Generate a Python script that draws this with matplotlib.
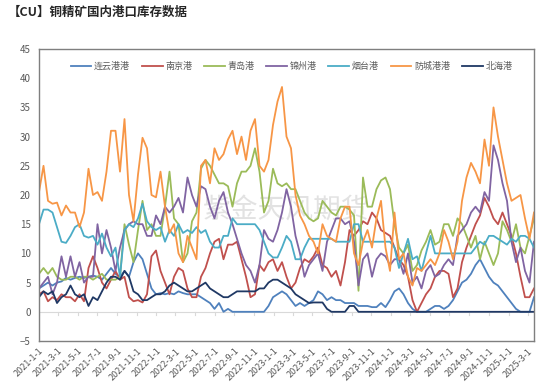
import matplotlib
matplotlib.use('Agg')
import matplotlib.pyplot as plt
import pandas as pd

plt.rcParams['font.family'] = ['Noto Sans CJK SC', 'DejaVu Sans']

# biweekly dates, 2021-01-01 .. 2025-03-21
dates = pd.date_range('2021-01-01', periods=111, freq='14D')

lianyungang = [4, 4.5, 5, 4.5, 5, 5.2, 5.8, 5.5, 5.8, 6, 5.8, 6, 6.2, 6, 5.5, 6.5, 7.5, 6.5, 6, 7,
	6, 8.5, 10, 9, 6.5, 4, 3, 3.2, 3, 3.2, 3, 3.5, 3.2, 3, 3, 3, 2.5,
	2, 1.5, 0.5, 1.5, 0, 0.5, 0, 0, 0, 0, 0, 0, 0, 0, 1, 2.5, 3, 3.5, 3,
	2, 1, 1.5, 1, 1.5, 2, 3.5, 3, 2, 2.5, 2, 2, 1.5, 1.5, 1.5, 1, 1, 1,
	0.8, 0.8, 1.5, 0.8, 2, 3.5, 4, 3, 1.5, 0.5, 0, 0, 0, 0.5, 1, 1, 0.5, 1,
	2, 3.5, 5, 5.5, 6.5, 8, 9, 7.5, 6, 5, 4.5, 3.5, 2.5, 1.5, 0.5, 0, 0, 0, 2.5]
nanjing = [3, 3.5, 1.8, 2.5, 2, 3, 2.5, 2.5, 1.8, 3, 1.8, 7.5, 9.5, 7.5, 5, 4, 5.5, 7, 5.5, 6,
	2.5, 1.8, 2, 1.6, 3, 9.5, 10.5, 7, 5, 3, 6, 7.5, 7, 4, 2.5, 2.5, 6,
	7.5, 10, 12, 12.5, 9, 11.5, 11.5, 12, 9, 6, 2.5, 3, 8, 7, 8.5, 9, 7, 8.5, 6,
	4, 5, 7.5, 9, 8.5, 9.5, 11, 8, 7.5, 6, 7, 4.5, 8.5, 14, 13, 14, 15.5, 15,
	17, 16, 14, 13.5, 13, 11, 9, 8, 6, 2, 0, 1.5, 3, 4, 6, 7, 7, 6.5,
	2.5, 4, 8.5, 11, 13, 15, 16.5, 19.5, 18, 16, 15, 17, 15, 13, 10, 6, 2.5, 2.5, 4]
qingdao = [6.5, 7.5, 6.5, 7.5, 6, 5.5, 5.5, 6, 6, 5.5, 6, 6, 5.5, 6, 6.5, 5.5, 5.5, 5.5, 6, 15,
	11.5, 8.5, 14, 19, 14, 15, 13, 13, 18, 24, 16, 15, 8.5, 10, 15.5, 17, 24.5,
	26, 25, 23.5, 22, 22, 21.5, 18, 22, 24, 24, 25, 28, 24, 17, 19, 24.5, 22, 21.5, 22,
	21, 21, 19, 17, 16, 15.5, 16, 19, 18, 17, 16.5, 18, 18, 17.5, 16.5, 3.6, 23, 18,
	18, 21, 22.5, 23, 21, 15, 11, 10, 11.5, 7, 8, 10.5, 12, 14, 11.5, 12, 15, 15,
	13, 16, 15, 13, 11, 13, 9, 12, 10, 8, 10, 15.5, 14, 12, 15, 11, 10, 13, 16]
jinzhou = [4, 5, 6, 3, 5, 9.5, 6, 9.5, 6, 8.5, 5, 6, 6, 15, 10, 14, 11, 7, 11, 14,
	15, 15.5, 15, 15, 13, 13, 16.5, 15, 18, 17, 18, 19.5, 17, 23, 20, 18, 21.5,
	21, 18, 16, 19, 20.5, 17, 15, 12.5, 10, 8, 7, 5, 8, 14, 12.5, 12, 14, 17, 21,
	18, 13, 10, 6, 8, 9, 10, 7, 12, 14, 16, 16, 15, 15.5, 12, 4.5, 9, 10,
	6, 9, 10, 9.5, 8, 9, 9, 6.5, 10, 5, 6, 4, 7, 8, 6, 6.5, 8, 9,
	8, 13, 14, 15, 17, 18, 17, 20.5, 19, 28.5, 26, 22, 19, 12, 8.5, 11, 7, 5, 12]
yantai = [15, 17.5, 17.5, 17, 14.5, 12, 11.8, 13, 14.5, 15, 13, 12.7, 13, 11.5, 13.4, 11, 9.5, 11, 6, 14,
	15, 14.5, 16, 18.5, 15.5, 14.5, 14, 14.5, 12, 14, 13, 15, 13.5, 14, 13.5, 14.5, 13.5,
	14, 12, 11, 11, 13, 13, 16, 15, 15, 15, 15, 15, 14, 12, 10, 9.3, 9.3, 11, 13,
	12, 9, 9, 11, 12.5, 12.5, 12.5, 12.5, 12.5, 12.5, 12, 12, 12, 12, 15, 15, 12, 12,
	12, 12, 12, 12, 12, 11, 7.5, 10, 12.5, 9, 9.5, 7, 10, 13, 10, 10, 10, 10,
	10, 10, 10, 10, 10, 11, 12, 11.5, 13, 13, 12.5, 12, 11.5, 12.5, 12, 13, 13, 12.5, 11]
fangcheng = [20.5, 25, 19, 18.5, 18.7, 16.5, 18.2, 17, 17, 14.5, 17, 24.5, 20, 20.5, 19, 24, 31, 31, 24, 33,
	20, 15.5, 23.5, 29.8, 28, 20, 19.6, 24, 18, 13.5, 15, 10, 8.5, 13, 11, 9, 25,
	26, 22, 28, 26, 27, 29.5, 31, 27, 30, 26, 31, 33, 25, 24, 26, 32, 36, 38.5, 30,
	28, 20, 16.5, 15, 13, 12, 10, 15, 13, 12.5, 12, 16, 18, 18, 10, 8, 12, 14,
	11, 16, 19, 11, 7, 17, 9, 10, 6, 4.5, 7.5, 7, 8, 9, 8, 10, 14, 12,
	9, 12, 19, 23, 25.5, 24, 22, 29.5, 25, 35, 30, 26, 22, 19, 19.5, 20, 16, 12.5, 17]
beihai = [2.5, 3.5, 3, 3.5, 1.5, 2.5, 3, 4.5, 3, 2.5, 3, 1, 2.5, 2, 3.5, 5, 6, 6, 5.5, 7,
	6, 3.5, 3, 2, 2, 2.5, 3, 3, 3.5, 4.5, 5, 4.5, 4, 3.5, 3.5, 4, 4.5,
	5, 4, 3.5, 3, 2.5, 2.5, 3, 3.5, 3.5, 3.5, 3.5, 3.5, 4, 4, 5, 5.5, 5.5, 5, 4.5,
	4, 3, 2.5, 2, 1.5, 1.6, 1.6, 1.6, 0.5, 0, 0, 0, 0, 1, 1, 0, 0, 0,
	0, 0, 0, 0, 0, 0, 0, 0, 0, 0, 0, 0, 0, 0, 0, 0, 0, 0,
	0, 0, 0, 0, 0, 0, 0, 0, 0, 0, 0, 0, 0, 0, 0, 0, 0, 0, 0]

names = ['连云港港', '南京港', '青岛港', '锦州港', '烟台港', '防城港港', '北海港']
series = [lianyungang, nanjing, qingdao, jinzhou, yantai, fangcheng, beihai]
colors = ['#4f81bd', '#c0504d', '#9bbb59', '#8064a2', '#4bacc6', '#f79646', '#1f3864']

tick_dates = pd.date_range('2021-01-01', '2025-03-01', freq='2MS')
tick_labels = ['{}-{}-{}'.format(d.year, d.month, d.day) for d in tick_dates]

fig = plt.figure(figsize = (5.5, 3.91), dpi = 100)
ax = fig.add_axes([39/550, 1 - 341/391, 495/550, 292/391])

for name, vals, c in zip(names, series, colors):
	ax.plot(dates, vals, color = c, lw = 1.3, label = name)

ax.set_xlim(dates[0], dates[-1])
ax.set_ylim(-5, 45)
ax.set_yticks(range(-5, 46, 5))
ax.axhline(0, color = '#d9d9d9', lw = 0.8, zorder = 0)
ax.set_xticks(tick_dates)
ax.set_xticklabels(tick_labels, rotation = 45, ha = 'right', rotation_mode = 'anchor')
ax.tick_params(axis = 'x', length = 0, labelsize = 6.5, colors = '#595959', pad = 4)
ax.tick_params(axis = 'y', length = 0, labelsize = 7, colors = '#595959', pad = 6)
for sp in ax.spines.values():
	sp.set_color('#7f7f7f')
	sp.set_linewidth(1.0)

# small tick marks along the zero line
for d in tick_dates:
	ax.plot([d, d], [0, -0.6], color = '#d9d9d9', lw = 0.8, zorder = 0)

ax.legend(loc = 'upper center', bbox_to_anchor = (0.51, 0.985), ncol = 7, frameon = False,
	fontsize = 6.5, handlelength = 2.3, handletextpad = 0.3, columnspacing = 1.3, labelcolor = '#595959')

# watermark
ax.text(0.5, 0.45, '紫金天风期货', transform = ax.transAxes, fontsize = 20, color = '#d0d0d0',
	alpha = 0.6, ha = 'center', va = 'center', zorder = 0)

fig.text(8/550, 1 - 12/391, '【CU】铜精矿国内港口库存数据', fontsize = 9, fontweight = 'bold',
	va = 'center', ha = 'left', color = '#262626')

fig.savefig('out.png', dpi = 100)
